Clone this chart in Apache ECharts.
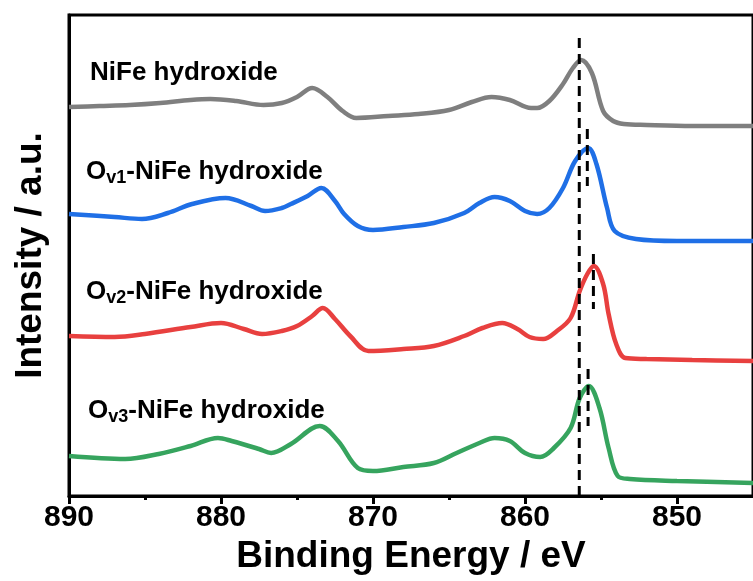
<!DOCTYPE html>
<html><head><meta charset="utf-8">
<script src="https://cdn.jsdelivr.net/npm/echarts@6/dist/echarts.min.js"></script>
<style>html,body{margin:0;padding:0;background:#fff}#c{width:753px;height:581px}</style>
</head><body><div id="c"></div>
<script>
// Binding energy (eV) and intensity (a.u.)
const grayE = [890,888,886,884,882,880.7,879,877.2,876,875,874,873,872,871.1,869,867,865,863.5,862.2,861,859.6,859.2,858.4,857.5,856.85,856.3,855.6,854.86,854.2,853.5,852,849,846,845];
const grayI = [389,390,391,393,396,397,395,391,393,399,408,399,385,378,380,382,386,394,399,396,388,388,395,412,428,436,423,385,375,372,371,370,370,370];

const blueE = [890,887,885.2,883.5,881.9,879.7,878,877.1,876,875.4,874.3,873.4,872.5,871.9,871,870,868,866,864,863,862,861,860,859.2,858.4,857.5,856.7,855.84,855.3,854.6,854.1,852.7,850,847,845];
const blueI = [282,279,277,283,292,298,290,285,288,292,300,308,295,282,270,266,269,273,283,293,299,295,285,282,288,308,335,348,332,288,265,257,255,255,255];

const redE = [890,887,885,882,880,878.5,877.3,876,875,874,873.3,872.5,871.5,870.3,868,866,864,862.8,861.5,860.5,859.7,858.8,857.9,857,856.4,855.9,855.47,854.86,854.5,854,853.4,852,849,845];
const redI = [160,159,162,169,173,167,162,165,170,180,188,177,160,145,147,150,160,168,173,167,159,157,165,178,205,222,230,212,182,152,138,137,136,135];

const greenE = [890,886.3,884.1,882,880.2,879.3,877.5,876.7,875.4,873.5,872.3,871,870,868,866,864.5,863,862,861,860,859,858.1,857,856.4,855.8,855.1,854.5,853.9,853.1,850,845];
const greenI = [40,37,42,50,58,55,47,43,52,70,55,28,25,29,33,43,53,58,55,43,39,48,68,98,110,88,48,20,17,15,13];

// peak-position reference lines
const dashE = [856.43, 855.9, 855.5, 855.85];
const dashTop = [458, 367, 242, 127];
const dashBottom = [0, 310, 187, 70];

const majorTicks = [890, 880, 870, 860, 850];
const minorTicks = [885, 875, 865, 855];
const xTitle = 'Binding Energy / eV';
const yTitle = 'Intensity / a.u.';

const FONT = 'Liberation Sans, Arial, sans-serif';
const pair = (E, I) => E.map((e, i) => [e, I[i]]);

const curves = [
  {name: 'NiFe hydroxide', E: grayE, I: grayI, color: '#7f7f7f'},
  {name: 'Ov1-NiFe hydroxide', E: blueE, I: blueI, color: '#1f6fe6'},
  {name: 'Ov2-NiFe hydroxide', E: redE, I: redI, color: '#e8403f'},
  {name: 'Ov3-NiFe hydroxide', E: greenE, I: greenI, color: '#36a45e'}
];

const series = curves.map(c => ({
  type: 'line', name: c.name, data: pair(c.E, c.I), showSymbol: false, smooth: 0.35,
  lineStyle: {color: c.color, width: 4.5}, silent: true, z: 3
}));
dashE.forEach((e, i) => series.push({
  type: 'line', data: [[e, dashTop[i]], [e, dashBottom[i]]], showSymbol: false,
  lineStyle: {color: '#000', width: 3, type: [10, 6]}, silent: true, z: 4
}));

const rich = {
  a: {fontFamily: FONT, fontWeight: 'bold', fontSize: 26, lineHeight: 30, fill: '#000'},
  b: {fontFamily: FONT, fontWeight: 'bold', fontSize: 18, lineHeight: 16, verticalAlign: 'bottom', fill: '#000'}
};
const lbl = (x, y, txt) => ({type: 'text', left: x, top: y, style: {text: txt, rich: rich}, z: 10});

const chart = echarts.init(document.getElementById('c'));
chart.setOption({
  animation: false,
  grid: {left: 69, right: -5, top: 15, bottom: 85, show: true, borderColor: '#000', borderWidth: 3, backgroundColor: 'transparent'},
  xAxis: [{
    type: 'value', inverse: true, min: 845, max: 890, interval: 5,
    axisLine: {lineStyle: {color: '#000', width: 3}},
    axisTick: {customValues: majorTicks, length: 8, lineStyle: {color: '#000', width: 3}},
    axisLabel: {customValues: majorTicks, color: '#000', fontFamily: FONT, fontWeight: 'bold', fontSize: 30, margin: 7},
    splitLine: {show: false},
    name: xTitle, nameLocation: 'middle', nameGap: 39,
    nameTextStyle: {color: '#000', fontFamily: FONT, fontWeight: 'bold', fontSize: 37}
  }, {
    type: 'value', inverse: true, min: 845, max: 890, interval: 5, position: 'bottom',
    axisLine: {show: false},
    axisTick: {customValues: minorTicks, length: 4, lineStyle: {color: '#000', width: 3}},
    axisLabel: {show: false}, splitLine: {show: false}
  }],
  yAxis: {
    type: 'value', min: 0, max: 481,
    axisLine: {show: true, lineStyle: {color: '#000', width: 3}},
    axisTick: {show: false}, axisLabel: {show: false}, splitLine: {show: false},
    name: yTitle, nameLocation: 'middle', nameGap: 20,
    nameTextStyle: {color: '#000', fontFamily: FONT, fontWeight: 'bold', fontSize: 37}
  },
  series: series,
  graphic: [
    lbl(90, 60, '{a|NiFe hydroxide}'),
    lbl(86, 159, '{a|O}{b|v1}{a|-NiFe hydroxide}'),
    lbl(86, 279, '{a|O}{b|v2}{a|-NiFe hydroxide}'),
    lbl(88, 398, '{a|O}{b|v3}{a|-NiFe hydroxide}')
  ]
});
</script></body></html>
